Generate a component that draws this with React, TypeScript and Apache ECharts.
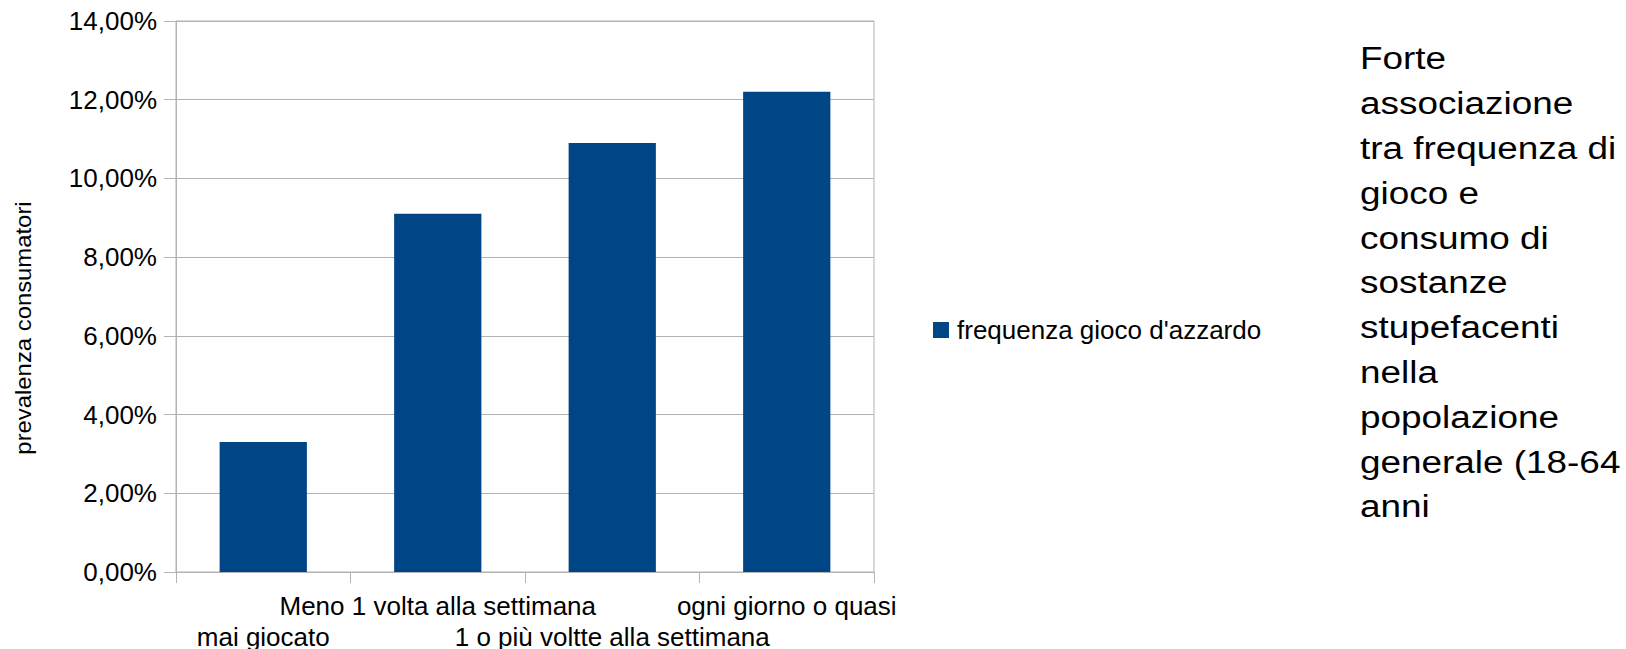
import React, { useEffect, useRef } from "react";
import * as echarts from "echarts";

// Gambling frequency categories and share of drug users in each group (%)
const categories: string[] = [
  "mai giocato",
  "Meno 1 volta alla settimana",
  "1 o più voltte alla settimana",
  "ogni giorno o quasi",
];
const prevalence: number[] = [3.3, 9.1, 10.9, 12.2];
const seriesName = "frequenza gioco d'azzardo";
const yAxisTitle = "prevalenza consumatori";
const noteLines: string[] = [
  "Forte",
  "associazione",
  "tra frequenza di",
  "gioco e",
  "consumo di",
  "sostanze",
  "stupefacenti",
  "nella",
  "popolazione",
  "generale (18-64",
  "anni",
];

const FONT = "'Liberation Sans', Arial, sans-serif";
const GRID = "#b3b3b3";
const BAR = "#004586";

export default function App() {
  const ref = useRef<HTMLDivElement>(null);

  useEffect(() => {
    if (!ref.current) return;
    const chart = echarts.init(ref.current, undefined, { renderer: "svg" });

    const noteFont = 31;
    const noteGraphics = noteLines.map((line, i) => ({
      type: "text",
      x: 1360,
      y: 74 + i * 44.8,
      scaleX: 1.19,
      style: {
        text: line,
        fill: "#000",
        font: `${noteFont}px ${FONT}`,
        textAlign: "left",
        textVerticalAlign: "bottom",
        verticalAlign: "bottom",
      },
    }));

    chart.setOption({
      animation: false,
      textStyle: { fontFamily: FONT },
      grid: {
        left: 176,
        top: 21,
        right: 752,
        bottom: 77,
        containLabel: false,
        outerBoundsMode: "none",
        show: true,
        borderColor: GRID,
        borderWidth: 1,
      },
      legend: {
        show: true,
        left: 933,
        top: 317,
        padding: 0,
        icon: "rect",
        itemWidth: 16,
        itemHeight: 16,
        textStyle: { fontSize: 26, color: "#000", fontFamily: FONT, padding: [0, 0, 0, 3] },
        data: [seriesName],
      },
      xAxis: {
        type: "category",
        data: categories,
        axisLine: { show: true, lineStyle: { color: GRID, width: 1 } },
        axisTick: { show: true, length: 11, lineStyle: { color: GRID } },
        axisLabel: {
          interval: 0,
          margin: 18,
          color: "#000",
          fontSize: 26,
          lineHeight: 31,
          fontFamily: FONT,
          formatter: (v: string, i: number) => (i % 2 === 0 ? "\n" + v : v),
        },
        splitLine: { show: false },
      },
      yAxis: {
        type: "value",
        min: 0,
        max: 14,
        interval: 2,
        axisLine: { show: true, lineStyle: { color: GRID, width: 1 } },
        axisTick: { show: true, length: 12, lineStyle: { color: GRID } },
        axisLabel: {
          margin: 19,
          color: "#000",
          fontSize: 26,
          fontFamily: FONT,
          formatter: (v: number) => v.toFixed(2).replace(".", ",") + "%",
        },
        splitLine: { show: true, lineStyle: { color: GRID, width: 1 } },
      },
      series: [
        {
          name: seriesName,
          type: "bar",
          data: prevalence,
          barWidth: "50%",
          itemStyle: { color: BAR },
        },
      ],
      graphic: [
        {
          type: "text",
          x: 23,
          y: 328,
          rotation: Math.PI / 2,
          scaleX: 1.11,
          style: {
            text: yAxisTitle,
            fill: "#000",
            font: `21.5px ${FONT}`,
            textAlign: "center",
            textVerticalAlign: "middle",
            verticalAlign: "middle",
          },
        },
        ...noteGraphics,
      ],
    });

    return () => chart.dispose();
  }, []);

  return (
    <div
      ref={ref}
      style={{ position: "fixed", left: 0, top: 0, width: 1626, height: 649, background: "#fff" }}
    />
  );
}
